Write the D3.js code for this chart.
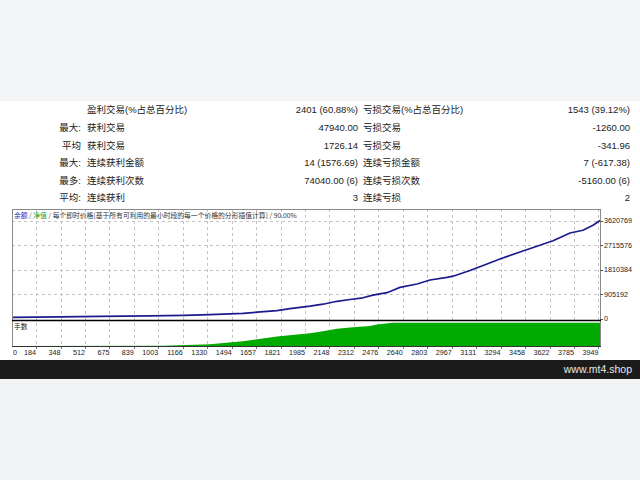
<!DOCTYPE html>
<html><head><meta charset="utf-8">
<script src="https://cdn.jsdelivr.net/npm/d3@7"></script>
<style>html,body{margin:0;padding:0;background:#f4f5f7;} svg{display:block}</style>
</head><body>
<svg id="c" width="640" height="480"></svg>
<script>
// ---------- data ----------
const statLead   = ["", "最大:", "平均", "最大:", "最多:", "平均:"];
const winLabels  = ["盈利交易(%占总百分比)", "获利交易", "获利交易", "连续获利金额", "连续获利次数", "连续获利"];
const winValues  = ["2401 (60.88%)", "47940.00", "1726.14", "14 (1576.69)", "74040.00 (6)", "3"];
const lossLabels = ["亏损交易(%占总百分比)", "亏损交易", "亏损交易", "连续亏损金额", "连续亏损次数", "连续亏损"];
const lossValues = ["1543 (39.12%)", "-1260.00", "-341.96", "7 (-617.38)", "-5160.00 (6)", "2"];

const balanceTrade = [0, 322, 590, 926, 1154, 1328, 1549, 1777, 1865, 1999, 2086, 2180, 2267, 2354, 2421, 2515, 2556, 2602, 2717, 2804, 2918, 2958, 3072, 3186, 3273, 3407, 3521, 3629, 3743, 3830, 3897, 3944];
const balanceValue = [44000, 59000, 78000, 100000, 118000, 140000, 192000, 288000, 366000, 454000, 528000, 636000, 702000, 765000, 861000, 953000, 1046000, 1149000, 1275000, 1422000, 1522000, 1563000, 1773000, 2014000, 2198000, 2457000, 2671000, 2871000, 3159000, 3262000, 3444000, 3620769];

const lotTrade = [0, 1013, 1227, 1328, 1549, 1777, 1999, 2086, 2180, 2287, 2401, 2448, 2549, 3944];
const lotValue = [0.01, 0.08, 0.26, 0.37, 1.04, 2.11, 2.80, 3.24, 3.77, 4.10, 4.42, 4.75, 5.13, 5.13];

const yTickValues = [0, 905192, 1810384, 2715576, 3620769];
const xTickLabels = ["0","184","348","512","675","839","1003","1166","1330","1494","1657","1821","1985","2148","2312","2476","2640","2803","2967","3131","3294","3458","3622","3785","3949"];
const titleParts = [
  {t:"余额", c:"#2b2bc0"}, {t:" / ", c:"#555"}, {t:"净值", c:"#22a022"}, {t:" / ", c:"#555"},
  {t:"每个即时价格[基于所有可利用的最小时段的每一个价格的分形插值计算] / 90.00%", c:"#333"}
];
const lotsLabel = "手数";
const watermark = "www.mt4.shop";

// ---------- drawing ----------
const svg = d3.select("#c");
const W = 640;
svg.append("rect").attr("x",0).attr("y",0).attr("width",W).attr("height",101).attr("fill","#f4f5f7");
svg.append("rect").attr("x",0).attr("y",101).attr("width",W).attr("height",259).attr("fill","#ffffff");
svg.append("rect").attr("x",0).attr("y",360).attr("width",W).attr("height",19).attr("fill","#1b1b1b");
svg.append("rect").attr("x",0).attr("y",379).attr("width",W).attr("height",101).attr("fill","#f2f3f5");

// stats table
const tfont = "'Liberation Sans','Noto Sans CJK SC',sans-serif";
const rowY = d3.scaleLinear().domain([0,5]).range([110, 198]);
const tbl = svg.append("g").attr("font-family", tfont).attr("font-size", 9.5).attr("fill", "#222");
statLead.forEach((s,i)=>{
  tbl.append("text").attr("x", 81).attr("y", rowY(i)).attr("dy","0.35em").attr("text-anchor","end").text(s);
  tbl.append("text").attr("x", 87).attr("y", rowY(i)).attr("dy","0.35em").text(winLabels[i]);
  tbl.append("text").attr("x", 358).attr("y", rowY(i)).attr("dy","0.35em").attr("text-anchor","end").text(winValues[i]);
  tbl.append("text").attr("x", 363).attr("y", rowY(i)).attr("dy","0.35em").text(lossLabels[i]);
  tbl.append("text").attr("x", 630).attr("y", rowY(i)).attr("dy","0.35em").attr("text-anchor","end").text(lossValues[i]);
});

// chart geometry
const L = 12, R = 600, T = 209, SEP = 320, B = 346.5;
const xLine = d3.scaleLinear().domain([0, 3944]).range([L, R]);
const yMain = d3.scaleLinear().domain([0, 3620769]).range([318.5, 220.5]);
const yLots = d3.scaleLinear().domain([0, 5.5]).range([346, 321]);
const xGrid = d3.scalePoint().domain(xTickLabels).range([11.6, 598.4]);

const g = svg.append("g");
// grid
xTickLabels.slice(1).forEach(l=>{
  const x = Math.round(xGrid(l)) + 0.5;
  g.append("line").attr("x1",x).attr("x2",x).attr("y1",T).attr("y2",B)
    .attr("stroke","#c4c4c4").attr("stroke-width",1).attr("stroke-dasharray","3,3");
  g.append("line").attr("x1",x).attr("x2",x).attr("y1",B).attr("y2",B+2.5)
    .attr("stroke","#777").attr("stroke-width",1);
});
yTickValues.slice(1).forEach(v=>{
  const y = Math.round(yMain(v)) + 0.5;
  g.append("line").attr("x1",L).attr("x2",R).attr("y1",y).attr("y2",y)
    .attr("stroke","#c4c4c4").attr("stroke-width",1).attr("stroke-dasharray","3,3");
});

// lots area
const lotData = lotTrade.map((t,i)=>({t, v:lotValue[i]}));
g.append("path").datum(lotData)
  .attr("d", d3.area().x(d=>xLine(d.t)).y0(yLots(0)).y1(d=>yLots(d.v)))
  .attr("fill","#00aa00");

// balance line
const balData = balanceTrade.map((t,i)=>({t, v:balanceValue[i]}));
g.append("path").datum(balData)
  .attr("d", d3.line().x(d=>xLine(d.t)).y(d=>yMain(d.v)))
  .attr("fill","none").attr("stroke","#1c1c8e").attr("stroke-width",1.7).attr("stroke-linejoin","round");

// frame
g.append("rect").attr("x",L+0.5).attr("y",T+0.5).attr("width",R-L).attr("height",B-T-0.5)
  .attr("fill","none").attr("stroke","#8a8a8a").attr("stroke-width",1);
g.append("line").attr("x1",L).attr("x2",R+1).attr("y1",SEP+0.5).attr("y2",SEP+0.5)
  .attr("stroke","#000").attr("stroke-width",1.6);
g.append("line").attr("x1",L).attr("x2",R+1).attr("y1",B).attr("y2",B)
  .attr("stroke","#333").attr("stroke-width",1);

// y axis labels
const afont = "'Liberation Sans','DejaVu Sans',sans-serif";
yTickValues.forEach(v=>{
  const y = yMain(v);
  g.append("line").attr("x1",R).attr("x2",R+3).attr("y1",Math.round(y)+0.5).attr("y2",Math.round(y)+0.5).attr("stroke","#555");
  g.append("text").attr("x",R+4).attr("y",y).attr("dy","0.35em")
    .attr("font-family",afont).attr("font-size",7.2).attr("fill","#222").text(d3.format("d")(v));
});
// x axis labels
xTickLabels.forEach((l,i)=>{
  const t = g.append("text").attr("y",352).attr("dy","0.35em")
    .attr("font-family",afont).attr("font-size",7.2).attr("fill","#222").text(l);
  if (i===0) t.attr("x", L+1).attr("text-anchor","start");
  else t.attr("x", xGrid(l)).attr("text-anchor","end");
});

// title
const title = g.append("text").attr("x",14).attr("y",216).attr("dy","0.35em")
  .attr("font-family","'Noto Sans CJK SC','Liberation Sans',sans-serif").attr("font-size",6.8);
titleParts.forEach(p=>title.append("tspan").attr("fill",p.c).text(p.t));
g.append("text").attr("x",14).attr("y",327).attr("dy","0.35em")
  .attr("font-family","'Noto Sans CJK SC',sans-serif").attr("font-size",6.8).attr("fill","#222").text(lotsLabel);

// watermark
svg.append("text").attr("x",632).attr("y",369.5).attr("dy","0.35em").attr("text-anchor","end")
  .attr("font-family",afont).attr("font-size",10.5).attr("fill","#e8e8e8").text(watermark);
</script>
</body></html>
